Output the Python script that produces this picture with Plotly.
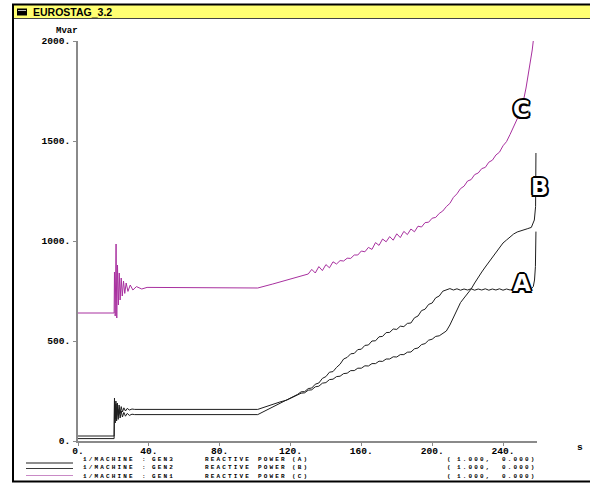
import plotly.graph_objects as go

W, H = 590, 483

# ---------------- data ----------------
x_ticks = [0, 40, 80, 120, 160, 200, 240]
x_ticktext = ["0.", "40.", "80.", "120.", "160.", "200.", "240."]
y_ticks = [0, 500, 1000, 1500, 2000]
y_ticktext = ["0.", "500.", "1000.", "1500.", "2000."]

# GEN3 reactive power (A)
a_t = [0, 20.4, 20.6, 21.0, 21.4, 21.8, 22.2, 22.7, 23.2, 23.8, 24.4, 25.1, 25.9, 26.8,
       27.8, 29, 30.5, 32, 101.5, 106, 110, 114, 118, 120, 122, 124, 126, 128, 130, 132,
       134, 136, 138, 140, 142, 144, 146, 148, 150, 152, 154, 156, 158, 160, 162, 164,
       166, 168, 170, 172, 174, 176, 178, 180, 182, 184, 186, 188, 190, 192, 194, 196,
       198, 200, 202, 204, 206, 208, 210, 212, 214, 216, 218, 220, 222, 224, 226, 228,
       230, 232, 234, 236, 238, 240, 242, 244, 246, 248, 250, 252, 254, 256, 257.1,
       257.8, 258.3, 258.6]
a_v = [12, 12, 200, 90, 185, 100, 170, 108, 158, 115, 150, 120, 143, 124,
       138, 128, 134, 132, 132, 152, 168, 187, 206, 215, 224, 233, 246, 247, 262, 265,
       284, 290, 313, 322, 344, 347, 368, 384, 410, 418, 436, 438, 457, 459, 478, 480,
       500, 501, 521, 523, 542, 543, 560, 558, 574, 572, 588, 590, 616, 625, 652, 659,
       683, 690, 716, 725, 749, 757, 762, 755, 761, 754, 760, 755, 761, 754, 760, 755,
       761, 754, 760, 755, 761, 754, 760, 755, 761, 754, 760, 755, 757, 762, 772,
       805, 872, 1047]

# GEN2 reactive power (B)
b_t = [0, 20.4, 20.6, 21.0, 21.4, 21.8, 22.2, 22.7, 23.2, 23.8, 24.4, 25.1, 25.9, 26.8,
       27.8, 29, 30.5, 32, 101.5, 106, 110, 114, 118, 120, 122, 124, 126, 128, 130, 132,
       134, 136, 138, 140, 142, 144, 146, 148, 150, 152, 154, 156, 158, 160, 162, 164,
       166, 168, 170, 172, 174, 176, 178, 180, 182, 184, 186, 188, 190, 192, 194, 196,
       198, 200, 202, 204, 206, 208, 210, 212, 214, 216, 218, 220, 222, 224, 226, 228,
       230, 232, 234, 236, 238, 240, 242, 244, 246, 248, 250, 252, 254, 256, 257.7,
       258.4, 258.6]
b_v = [25, 25, 215, 110, 200, 118, 190, 128, 180, 138, 172, 145, 166, 150,
       163, 155, 160, 158, 158, 172, 183, 195, 205, 213, 221, 229, 239, 241, 254, 256,
       271, 274, 289, 292, 307, 309, 322, 324, 337, 339, 352, 352, 364, 364, 376, 375,
       387, 387, 399, 398, 410, 410, 421, 420, 432, 432, 444, 445, 461, 465, 482, 487,
       504, 509, 523, 526, 539, 550, 580, 620, 660, 692, 715, 738, 760, 790, 820, 845,
       870, 895, 918, 945, 970, 990, 1005, 1020, 1035, 1045, 1052, 1058, 1062, 1068, 1105,
       1172, 1440]

# GEN1 reactive power (C)
c_t = [0, 20.4, 20.6, 21.0, 21.5, 21.9, 22.3, 22.8, 23.3, 23.8, 24.4, 25.0, 25.7, 26.4,
       27.2, 28.2, 29.5, 31, 33, 36, 39, 101.5, 110, 120, 126, 128, 130, 132, 134, 136,
       138, 140, 142, 144, 146, 148, 150, 152, 154, 156, 158, 160, 162, 164, 166, 168,
       170, 172, 174, 176, 178, 180, 182, 184, 186, 188, 190, 192, 194, 196, 198, 200,
       202, 204, 206, 208, 210, 212, 214, 216, 218, 220, 222, 224, 226, 228, 230, 232,
       234, 236, 238, 240, 242, 244, 246, 248, 250, 251.5, 253, 254.3, 255.5, 256.5, 257.1]
c_v = [640, 640, 845, 625, 985, 615, 880, 680, 840, 705, 815, 725, 800, 738,
       790, 748, 780, 755, 772, 760, 768, 765, 785, 810, 825, 830, 835, 858, 840, 872,
       852, 882, 866, 896, 885, 902, 900, 914, 913, 930, 930, 950, 946, 968, 958, 992,
       978, 1010, 996, 1022, 1004, 1036, 1017, 1048, 1032, 1060, 1046, 1074, 1070, 1092, 1094, 1114,
       1118, 1138, 1150, 1172, 1188, 1218, 1236, 1262, 1274, 1300, 1307, 1332, 1340, 1362, 1368, 1394,
       1404, 1430, 1444, 1476, 1497, 1533, 1570, 1610, 1660, 1700, 1765, 1830, 1895, 1955, 2000]

gen_names = ["GEN3", "GEN2", "GEN1"]
curve_labels = ["A", "B", "C"]
legend_scale = ["1.000,", "1.000,", "1.000,"]
legend_offset = ["0.000)", "0.000)", "0.000)"]

# ---------------- styling ----------------
BLACK_LINE = "#1e1e1e"
MAGENTA = "#a8309f"
LEGEND_PINK = "#c98ac6"
AXIS_GRAY = "#8a8a8a"
MONO = "Liberation Mono"


def px(x):
    return x / W


def py(y):
    return 1 - y / H


fig = go.Figure()
fig.add_trace(go.Scatter(x=a_t, y=a_v, mode="lines", line=dict(color=BLACK_LINE, width=1),
                         name="GEN3", showlegend=False, hoverinfo="skip"))
fig.add_trace(go.Scatter(x=b_t, y=b_v, mode="lines", line=dict(color=BLACK_LINE, width=1),
                         name="GEN2", showlegend=False, hoverinfo="skip"))
fig.add_trace(go.Scatter(x=c_t, y=c_v, mode="lines", line=dict(color=MAGENTA, width=1),
                         name="GEN1", showlegend=False, hoverinfo="skip"))

tickfont = dict(family=MONO, size=9.6, color="#000", weight="bold")

fig.update_layout(
    width=W, height=H, autosize=False,
    margin=dict(l=0, r=0, t=0, b=0, pad=0, autoexpand=False),
    paper_bgcolor="white", plot_bgcolor="white",
    showlegend=False,
    xaxis=dict(domain=[px(78), px(537)], range=[0, 259.2], showgrid=False, zeroline=False,
               showline=True, linecolor=AXIS_GRAY, linewidth=1.5, automargin=False,
               ticks="outside", ticklen=3, tickcolor=AXIS_GRAY, tickwidth=1,
               tickvals=x_ticks, ticktext=x_ticktext, tickfont=tickfont,
               ticklabelstandoff=-3, fixedrange=True),
    yaxis=dict(domain=[py(441), py(41)], range=[0, 2000], showgrid=False, zeroline=False,
               showline=True, linecolor=AXIS_GRAY, linewidth=1.5, automargin=False,
               ticks="outside", ticklen=3, tickcolor=AXIS_GRAY, tickwidth=1,
               tickvals=y_ticks, ticktext=y_ticktext, tickfont=tickfont,
               ticklabelstandoff=1, fixedrange=True),
)

shapes = []
# window title bar
shapes.append(dict(type="rect", xref="paper", yref="paper", x0=px(13), x1=px(591), y0=py(18), y1=py(5),
                   fillcolor="#ffff72", line=dict(width=0), layer="below"))
shapes.append(dict(type="line", xref="paper", yref="paper", x0=px(12), x1=px(591), y0=py(4.5), y1=py(4.5),
                   line=dict(color="#000", width=2), layer="below"))
shapes.append(dict(type="line", xref="paper", yref="paper", x0=px(13), x1=px(591), y0=py(18.5), y1=py(18.5),
                   line=dict(color="#444", width=1), layer="below"))
# window left & bottom borders
shapes.append(dict(type="line", xref="paper", yref="paper", x0=px(13), x1=px(13), y0=py(4), y1=py(482),
                   line=dict(color="#000", width=2)))
shapes.append(dict(type="line", xref="paper", yref="paper", x0=px(12), x1=px(591), y0=py(481.5), y1=py(481.5),
                   line=dict(color="#000", width=2)))
# title icon
shapes.append(dict(type="rect", xref="paper", yref="paper", x0=px(17), x1=px(27), y0=py(15.5), y1=py(8.5),
                   fillcolor="#000", line=dict(width=0), layer="below"))
shapes.append(dict(type="line", xref="paper", yref="paper", x0=px(18), x1=px(26), y0=py(10.5), y1=py(10.5),
                   line=dict(color="#bbb", width=1), layer="below"))

# legend sample lines
legend_colors = [BLACK_LINE, "#3a3a3a", LEGEND_PINK]
legend_line_y = [463, 468.5, 475.5]
for col, ly in zip(legend_colors, legend_line_y):
    shapes.append(dict(type="line", xref="paper", yref="paper", x0=px(26), x1=px(73), y0=py(ly), y1=py(ly),
                       line=dict(color=col, width=1.2)))
fig.update_layout(shapes=shapes)

ann = []
ann.append(dict(text="EUROSTAG_3.2", xref="paper", yref="paper", x=px(31), y=py(11.5), xanchor="left",
                yanchor="middle", showarrow=False,
                font=dict(family="Liberation Sans", size=10.5, color="#000", weight="bold")))
ann.append(dict(text="Mvar", xref="paper", yref="paper", x=px(67), y=py(30.5), xanchor="center",
                yanchor="middle", showarrow=False, font=dict(family=MONO, size=9, color="#000", weight="bold")))
ann.append(dict(text="s", xref="paper", yref="paper", x=px(580), y=py(447), xanchor="center",
                yanchor="middle", showarrow=False, font=tickfont))

# legend rows: word by word at the bitmap-font positions
legend_text_y = [459.2, 467.6, 476]
LEG_FONT = dict(family=MONO, size=6, color="#000", weight="bold")


def word(txt, x, y):
    return dict(text=f'<span style="letter-spacing:2.15px">{txt}</span>', xref="paper", yref="paper",
                x=px(x), y=py(y), xanchor="left", yanchor="middle", showarrow=False, font=LEG_FONT)


for g, lab, sc, off, ty in zip(gen_names, curve_labels, legend_scale, legend_offset, legend_text_y):
    for txt, xs in (("1/MACHINE", 80.7), (":", 140), (g, 150), ("REACTIVE", 203), ("POWER", 256),
                    (f"({lab})", 290), ("(", 445), (sc, 455), (off, 500)):
        ann.append(word(txt, xs, ty))

outline = ", ".join(f"{dx}px {dy}px 0 #000" for dx, dy in
                    [(-1.5, -1.5), (1.5, -1.5), (-1.5, 1.5), (1.5, 1.5), (0, 2), (0, -2), (2, 0), (-2, 0)])
label_pos = {"A": (522, 283), "B": (540, 187), "C": (521, 109)}
for lab in curve_labels:
    lx, ly = label_pos[lab]
    ann.append(dict(text=lab, xref="paper", yref="paper", x=px(lx), y=py(ly), xanchor="center",
                    yanchor="middle", showarrow=False,
                    font=dict(family="DejaVu Sans", size=23, color="#ffffff", weight="bold", shadow=outline)))
fig.update_layout(annotations=ann)

fig.write_html("out.html")
